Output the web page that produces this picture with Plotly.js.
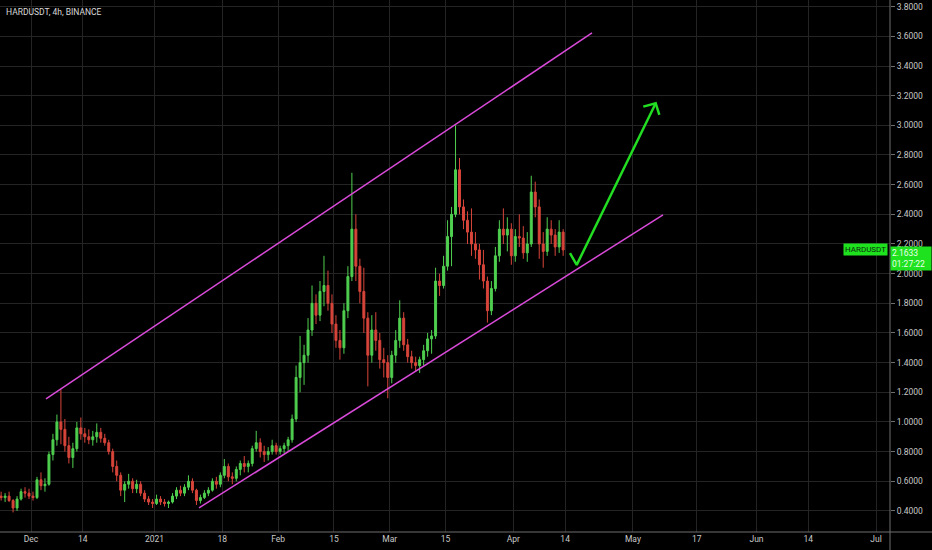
<!DOCTYPE html>
<html>
<head>
<meta charset="utf-8">
<script src="https://cdn.plot.ly/plotly-3.0.1.min.js"></script>
<style>html,body{margin:0;padding:0;background:#000;}#chart{width:932px;height:550px;}</style>
</head>
<body>
<div id="chart"></div>
<script>
// ---- data (daily bars) ----
var startDate = "2020-11-23";
var openVals = [
 .50,.49,.50,.47,.42,.48,.53,.52,
 .50,.49,.61,.57,.58,.78,.88,1.00,.95,.84,.76,.82,.96,.92,.90,.88,.90,.93,.89,.86,.80,.70,.64,.54,.58,.60,.55,.58,.52,.48,.46,
 .45,.48,.46,.45,.46,.50,.54,.52,.56,.60,.54,.47,.49,.52,.54,.60,.58,.64,.70,.63,.62,.68,.72,.70,.72,.82,.86,.80,.78,.80,.84,
 .80,.82,.84,.88,1.02,1.30,1.40,1.45,1.62,1.80,1.72,1.88,1.92,1.80,1.66,1.55,1.50,1.75,1.98,2.30,2.05,1.88,1.70,1.45,1.62,1.55,1.42,1.40,
 1.30,1.45,1.55,1.70,1.52,1.44,1.40,1.38,1.42,1.48,1.56,1.58,1.95,1.92,2.05,2.25,2.40,2.70,2.45,2.36,2.28,2.20,2.16,2.06,1.95,1.75,1.90,2.12,2.30,2.26,2.30,
 2.12,2.25,2.24,2.14,2.20,2.55,2.45,2.20,2.15,2.30,2.26,2.18,2.28
];
var highVals = [
 .53,.52,.53,.48,.50,.55,.56,.55,
 .53,.63,.66,.62,.80,.92,1.05,1.22,1.02,.90,.86,1.00,1.03,.96,.95,.94,.99,.96,.92,.88,.82,.74,.66,.60,.65,.62,.61,.60,.54,.50,.48,
 .51,.50,.48,.47,.52,.56,.57,.58,.64,.62,.55,.51,.54,.56,.62,.63,.66,.75,.72,.66,.70,.74,.77,.74,.84,.94,.89,.84,.83,.88,.86,
 .84,.86,.90,1.05,1.38,1.58,1.52,1.70,1.92,1.86,1.95,2.12,2.02,1.86,1.72,1.62,1.80,2.05,2.68,2.40,2.10,2.04,1.74,1.72,1.74,1.60,1.50,1.45,
 1.48,1.62,1.82,1.74,1.56,1.48,1.44,1.44,1.52,1.60,1.62,2.04,2.00,2.12,2.36,2.45,3.00,2.78,2.50,2.42,2.44,2.28,2.20,2.16,1.98,1.95,2.18,2.36,2.44,2.38,2.34,
 2.30,2.40,2.32,2.28,2.66,2.62,2.50,2.28,2.38,2.36,2.30,2.36,2.30
];
var lowVals = [
 .47,.46,.46,.39,.40,.47,.49,.48,
 .47,.48,.54,.53,.57,.74,.84,.85,.80,.72,.69,.80,.88,.86,.85,.84,.86,.86,.84,.78,.66,.60,.50,.46,.55,.52,.52,.50,.46,.44,.42,
 .44,.44,.43,.42,.45,.48,.50,.50,.54,.52,.44,.45,.48,.50,.53,.55,.56,.62,.60,.58,.60,.64,.66,.66,.70,.80,.76,.73,.74,.78,.78,
 .78,.79,.80,.86,1.00,1.20,1.25,1.40,1.58,1.66,1.68,1.78,1.75,1.60,1.50,1.42,1.46,1.70,1.95,1.95,1.80,1.60,1.24,1.40,1.48,1.36,1.30,1.16,
 1.26,1.40,1.50,1.48,1.40,1.36,1.34,1.33,1.38,1.44,1.46,1.56,1.85,1.90,2.02,2.05,2.38,2.40,2.30,2.20,2.12,2.10,1.96,1.90,1.67,1.72,1.88,2.08,2.20,2.15,2.06,
 2.08,2.18,2.10,2.08,2.18,2.38,2.10,2.04,2.12,2.20,2.12,2.14,2.12
];
var closeVals = [
 .49,.50,.47,.42,.48,.53,.52,.50,
 .49,.61,.57,.58,.78,.88,1.00,.95,.84,.76,.82,.96,.92,.90,.88,.90,.93,.89,.86,.80,.70,.64,.54,.58,.60,.55,.58,.52,.48,.46,.45,
 .48,.46,.45,.46,.50,.54,.52,.56,.60,.54,.47,.49,.52,.54,.60,.58,.64,.70,.63,.62,.68,.72,.70,.72,.82,.86,.80,.78,.80,.84,.80,
 .82,.84,.88,1.02,1.30,1.40,1.45,1.62,1.80,1.72,1.88,1.92,1.80,1.66,1.55,1.50,1.75,1.98,2.30,2.05,1.88,1.70,1.45,1.62,1.55,1.42,1.40,1.30,
 1.45,1.55,1.70,1.52,1.44,1.40,1.38,1.42,1.48,1.56,1.58,1.95,1.92,2.05,2.25,2.40,2.70,2.45,2.36,2.28,2.20,2.16,2.06,1.95,1.75,1.90,2.12,2.30,2.26,2.30,2.12,
 2.25,2.24,2.14,2.20,2.55,2.45,2.20,2.15,2.30,2.26,2.18,2.28,2.16
];

// drawing annotations (data coordinates)
var upperLineX = ["2020-12-04 18:19", "2021-04-20 17:45"];
var upperLineY = [1.155, 3.623];
var lowerLineX = ["2021-01-12 03:36", "2021-05-08 13:12"];
var lowerLineY = [0.42, 2.396];
var arrowX = ["2021-04-15 05:17", "2021-04-16 21:40", "2021-05-06 17:17"];
var arrowY = [2.138, 2.059, 3.149];
var arrowHeadX = ["2021-05-03 14:24", "2021-05-06 17:17", "2021-05-07 15:07"];
var arrowHeadY = [3.126, 3.149, 3.070];

// axis ticks
var xTickVals = ["2020-12-01","2020-12-14","2021-01-01","2021-01-18","2021-02-01","2021-02-15","2021-03-01","2021-03-15","2021-04-01","2021-04-14","2021-05-01","2021-05-17","2021-06-01","2021-06-14","2021-07-01"];
var xTickText = ["Dec","14","2021","18","Feb","15","Mar","15","Apr","14","May","17","Jun","14","Jul"];
var yTickVals = [0.4,0.6,0.8,1.0,1.2,1.4,1.6,1.8,2.0,2.2,2.4,2.6,2.8,3.0,3.2,3.4,3.6,3.8];
var lastPrice = 2.1633;
var countdown = "01:27:22";
var symbolTitle = "HARDUSDT, 4h, BINANCE";

// ---- build ----
var dates = [];
(function(){
  var d = new Date(startDate + "T12:00:00Z");
  for (var i = 0; i < openVals.length; i++) {
    var s = d.toISOString();
    dates.push(s.slice(0,10) + " 12:00");
    d.setUTCDate(d.getUTCDate() + 1);
  }
})();

var traces = [
  {
    type: "candlestick", x: dates, open: openVals, high: highVals, low: lowVals, close: closeVals,
    increasing: {line: {color: "#4fcf4f", width: 1}, fillcolor: "#4fcf4f"},
    decreasing: {line: {color: "#d8453a", width: 1}, fillcolor: "#d8453a"},
    whiskerwidth: 0, hoverinfo: "skip", showlegend: false
  },
  {type: "scatter", mode: "lines", x: upperLineX, y: upperLineY, line: {color: "#d94ad9", width: 1.5}, showlegend: false, hoverinfo: "skip"},
  {type: "scatter", mode: "lines", x: lowerLineX, y: lowerLineY, line: {color: "#d94ad9", width: 1.5}, showlegend: false, hoverinfo: "skip"},
  {type: "scatter", mode: "lines", x: arrowX, y: arrowY, line: {color: "#22dd22", width: 2.5}, showlegend: false, hoverinfo: "skip"},
  {type: "scatter", mode: "lines", x: arrowHeadX, y: arrowHeadY, line: {color: "#22dd22", width: 2.5}, showlegend: false, hoverinfo: "skip"}
];

var axisCol = "#6e6e6e";
var gridCol = "#242424";
var fontFam = "Roboto, 'Liberation Sans', sans-serif";

var layout = {
  width: 932, height: 550,
  margin: {l: 0, r: 42, t: 0, b: 18, pad: 0},
  paper_bgcolor: "#000", plot_bgcolor: "#000",
  font: {family: fontFam, color: "#c8c8c8", size: 9},
  showlegend: false,
  xaxis: {
    type: "date", range: ["2020-11-23 05:17", "2021-07-04 12:00"],
    tickmode: "array", tickvals: xTickVals, ticktext: xTickText,
    showgrid: true, gridcolor: gridCol, gridwidth: 1,
    showline: false, zeroline: false, ticks: "",
    tickfont: {size: 8.5, color: "#c8c8c8", family: fontFam},
    rangeslider: {visible: false}, fixedrange: true
  },
  yaxis: {
    side: "right", range: [0.258, 3.845],
    tickmode: "array", tickvals: yTickVals,
    tickformat: ".4f",
    showgrid: true, gridcolor: gridCol, gridwidth: 1,
    showline: false, zeroline: false,
    ticks: "outside", ticklen: 4, tickcolor: axisCol,
    tickfont: {size: 8.5, color: "#c8c8c8", family: fontFam},
    fixedrange: true
  },
  shapes: [
    {type: "line", xref: "paper", yref: "paper", x0: 0, x1: 932/890, y0: 0, y1: 0, line: {color: axisCol, width: 1}},
    {type: "line", xref: "paper", yref: "paper", x0: 1, x1: 1, y0: -18/532, y1: 1, line: {color: axisCol, width: 1}}
  ],
  annotations: [
    {xref: "paper", yref: "paper", x: 0, y: 1, xanchor: "left", yanchor: "top", xshift: 4, yshift: -5,
     text: symbolTitle, showarrow: false, font: {size: 8.5, color: "#d8d8d8", family: fontFam}},
    {xref: "paper", yref: "y", x: 1, y: lastPrice, xanchor: "left", yanchor: "top", yshift: 3,
     text: lastPrice.toFixed(4) + "<br>" + countdown, showarrow: false, align: "left",
     bgcolor: "#1ee21e", borderpad: 1, width: 38,
     font: {size: 8.5, color: "#eaffea", family: fontFam}},
    {xref: "paper", yref: "y", x: 1, y: lastPrice, xanchor: "right", yanchor: "middle", xshift: -2,
     text: "HARDUSDT", showarrow: false,
     bgcolor: "#1ee21e", borderpad: 1,
     font: {size: 8, color: "#0b2a0b", family: fontFam}}
  ]
};

Plotly.newPlot("chart", traces, layout, {displayModeBar: false, staticPlot: true});
</script>
</body>
</html>
